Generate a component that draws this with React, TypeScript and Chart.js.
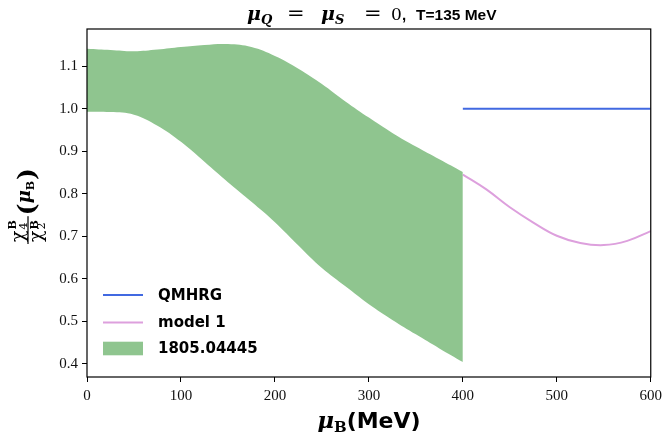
import { useEffect, useRef } from "react";
import { Chart, registerables } from "chart.js";
Chart.register(...registerables);

const bandMu = [0, 25, 50, 75, 100, 125, 150, 175, 200, 225, 250, 275, 300, 325, 350, 375, 400];
const bandUpper = [1.141, 1.138, 1.135, 1.139, 1.145, 1.15, 1.152, 1.145, 1.124, 1.094, 1.058, 1.017, 0.979, 0.943, 0.911, 0.881, 0.851];
const bandLower = [0.993, 0.992, 0.986, 0.96, 0.922, 0.875, 0.827, 0.781, 0.733, 0.678, 0.625, 0.582, 0.54, 0.503, 0.469, 0.436, 0.404];

const modelMu = [400, 425, 450, 475, 500, 525, 550, 575, 600];
const modelVals = [0.845, 0.81, 0.768, 0.732, 0.701, 0.684, 0.679, 0.689, 0.712];

const qmhrgMu = [400, 600];
const qmhrgVals = [1.0, 1.0];

const xTicks = [0, 100, 200, 300, 400, 500, 600];
const yTicks = [0.4, 0.5, 0.6, 0.7, 0.8, 0.9, 1.0, 1.1];

const BLUE = "#4169e1";
const PLUM = "#dda0dd";
const GREEN = "rgb(143,197,143)";

type Part = { t: string; f: string; x: number; dy?: number };

function drawAt(ctx: CanvasRenderingContext2D, parts: Part[], y: number) {
  ctx.textAlign = "left";
  ctx.textBaseline = "alphabetic";
  for (const p of parts) {
    ctx.font = p.f;
    ctx.fillText(p.t, p.x, y + (p.dy || 0));
  }
}

function drawParts(ctx: CanvasRenderingContext2D, parts: { t: string; f: string; dy?: number }[], cx: number, y: number) {
  let total = 0;
  for (const p of parts) {
    ctx.font = p.f;
    total += ctx.measureText(p.t).width;
  }
  let x = cx - total / 2;
  ctx.textAlign = "left";
  ctx.textBaseline = "alphabetic";
  for (const p of parts) {
    ctx.font = p.f;
    ctx.fillText(p.t, x, y + (p.dy || 0));
    x += ctx.measureText(p.t).width;
  }
}

const textPlugin = {
  id: "textPlugin",
  afterDraw(chart: any) {
    const ctx: CanvasRenderingContext2D = chart.ctx;
    const a = chart.chartArea;
    ctx.save();
    ctx.strokeStyle = "#000";
    ctx.lineWidth = 1.2;
    ctx.strokeRect(a.left, a.top, a.right - a.left, a.bottom - a.top);

    ctx.fillStyle = "#000";
    const cx = (a.left + a.right) / 2;
    // title
    const mu = "bold italic 19px 'DejaVu Serif'";
    const sub = "bold italic 13px 'DejaVu Serif'";
    const eq = "21px 'DejaVu Serif'";
    drawAt(
      ctx,
      [
        { t: "μ", f: mu, x: 247 },
        { t: "Q", f: sub, x: 261, dy: 4 },
        { t: "=", f: eq, x: 287 },
        { t: "μ", f: mu, x: 321 },
        { t: "S", f: sub, x: 335, dy: 4 },
        { t: "=", f: eq, x: 364 },
        { t: "0", f: "17px 'DejaVu Serif'", x: 391 },
        { t: ",", f: "bold 15px 'Liberation Sans'", x: 402 },
        { t: "T=135 MeV", f: "bold 15.5px 'Liberation Sans'", x: 416 },
      ],
      20
    );

    // x axis label
    drawParts(
      ctx,
      [
        { t: "μ", f: "bold italic 23px 'DejaVu Serif'" },
        { t: "B", f: "bold 15px 'DejaVu Serif'", dy: 4 },
        { t: "(MeV)", f: "bold 22px 'DejaVu Sans'" },
      ],
      cx,
      428
    );

    // y axis label (rotated)
    ctx.save();
    ctx.translate(28, 244);
    ctx.rotate(-Math.PI / 2);
    ctx.textAlign = "left";
    ctx.textBaseline = "alphabetic";
    const chi = "19px 'DejaVu Serif'";
    const scr = "11px 'DejaVu Serif'";
    const scrB = "bold 11px 'DejaVu Serif'";
    ctx.font = chi;
    const wc = ctx.measureText("χ").width;
    ctx.fillText("χ", 2, -4.5);
    ctx.font = scr;
    ctx.fillText("4", 3 + wc, -1);
    ctx.font = scrB;
    ctx.fillText("B", 3 + wc, -12.5);
    const wb = ctx.measureText("B").width;
    const fw = 3 + wc + wb + 4;
    ctx.fillRect(0, -0.6, fw, 1.2);
    ctx.font = chi;
    ctx.fillText("χ", 2, 14);
    ctx.font = scr;
    ctx.fillText("2", 3 + wc, 17);
    ctx.font = scrB;
    ctx.fillText("B", 3 + wc, 9.5);
    let u = fw + 1;
    ctx.font = "bold 25px 'DejaVu Serif'";
    ctx.fillText("(", u, 7);
    u += ctx.measureText("(").width;
    ctx.font = "bold italic 18px 'DejaVu Serif'";
    ctx.fillText("μ", u, 2);
    u += ctx.measureText("μ").width;
    ctx.font = "bold 11px 'DejaVu Serif'";
    ctx.fillText("B", u, 6);
    u += ctx.measureText("B").width + 1;
    ctx.font = "bold 25px 'DejaVu Serif'";
    ctx.fillText(")", u, 7);
    ctx.restore();

    // legend
    const ds = chart.data.datasets;
    const items = [
      { label: ds[2].label, type: "line", color: BLUE, y: 295 },
      { label: ds[3].label, type: "line", color: PLUM, y: 322.5 },
      { label: ds[0].label, type: "box", color: GREEN, y: 348.5 },
    ];
    ctx.font = "bold 15px 'DejaVu Sans'";
    ctx.textBaseline = "middle";
    ctx.textAlign = "left";
    for (const it of items) {
      if (it.type === "line") {
        ctx.strokeStyle = it.color;
        ctx.lineWidth = 2;
        ctx.beginPath();
        ctx.moveTo(103, it.y);
        ctx.lineTo(143, it.y);
        ctx.stroke();
      } else {
        ctx.fillStyle = it.color;
        ctx.fillRect(103, it.y - 6.8, 40, 13.6);
      }
      ctx.fillStyle = "#000";
      ctx.fillText(it.label, 158, it.y + 1);
    }
    ctx.restore();
  },
};

export default function App() {
  const ref = useRef<HTMLCanvasElement>(null);
  useEffect(() => {
    if (!ref.current) return;
    const pts = (xs: number[], ys: number[]) => xs.map((x, i) => ({ x, y: ys[i] }));
    const chart = new Chart(ref.current, {
      type: "line",
      data: {
        datasets: [
          {
            label: "1805.04445",
            data: pts(bandMu, bandUpper),
            borderColor: "transparent",
            borderWidth: 0,
            pointRadius: 0,
            fill: false,
            tension: 0.4,
          },
          {
            label: "",
            data: pts(bandMu, bandLower),
            borderColor: "transparent",
            borderWidth: 0,
            pointRadius: 0,
            backgroundColor: GREEN,
            fill: 0,
            tension: 0.4,
          },
          {
            label: "QMHRG",
            data: pts(qmhrgMu, qmhrgVals),
            borderColor: BLUE,
            borderWidth: 2,
            pointRadius: 0,
            fill: false,
          },
          {
            label: "model 1",
            data: pts(modelMu, modelVals),
            borderColor: PLUM,
            borderWidth: 2,
            pointRadius: 0,
            fill: false,
            tension: 0.4,
          },
        ],
      } as any,
      options: {
        animation: false,
        responsive: false,
        devicePixelRatio: 1,
        layout: { padding: { top: 29, right: 14, left: 0, bottom: 0 } },
        plugins: { legend: { display: false }, title: { display: false }, tooltip: { enabled: false } },
        scales: {
          x: {
            type: "linear",
            min: 0,
            max: 600,
            afterFit: (s: any) => {
              s.height = 55;
            },
            afterBuildTicks: (s: any) => {
              s.ticks = xTicks.map((v) => ({ value: v }));
            },
            grid: { drawOnChartArea: false, drawTicks: true, tickLength: 5, color: "#000" },
            border: { display: false },
            ticks: {
              padding: 5,
              color: "#111",
              font: { family: "'Liberation Serif'", size: 15 },
              callback: (v: any) => String(v),
              maxRotation: 0,
            },
          },
          y: {
            type: "linear",
            min: 0.3687,
            max: 1.1875,
            afterFit: (s: any) => {
              s.width = 87;
            },
            afterBuildTicks: (s: any) => {
              s.ticks = yTicks.map((v) => ({ value: v }));
            },
            grid: { drawOnChartArea: false, drawTicks: true, tickLength: 5, color: "#000" },
            border: { display: false },
            ticks: {
              padding: 4,
              color: "#111",
              font: { family: "'Liberation Serif'", size: 15 },
              callback: (v: any) => Number(v).toFixed(1),
            },
          },
        },
      } as any,
      plugins: [textPlugin],
    });
    return () => chart.destroy();
  }, []);
  return (
    <div style={{ position: "absolute", left: 0, top: 0, width: 667, height: 432 }}>
      <canvas ref={ref} width={667} height={432} style={{ width: 667, height: 432, display: "block" }} />
    </div>
  );
}
